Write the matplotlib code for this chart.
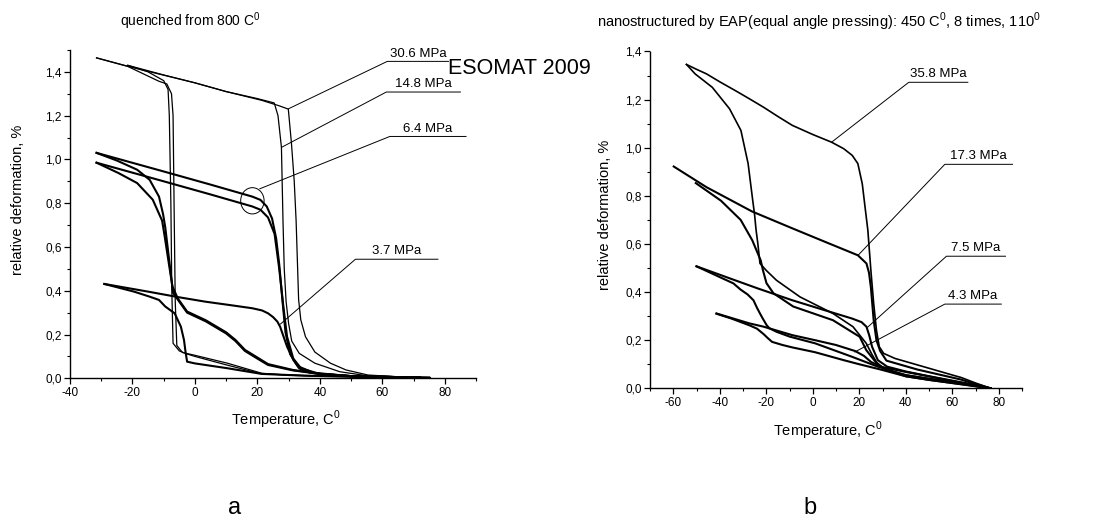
import matplotlib
matplotlib.use('Agg')
import matplotlib.pyplot as plt
from matplotlib.patches import Ellipse
from matplotlib.ticker import MultipleLocator, FuncFormatter

plt.rcParams['font.family'] = ['Liberation Sans', 'DejaVu Sans']
plt.rcParams['axes.unicode_minus'] = False

# ---- panel a: quenched from 800 C ----
a306_heat_T = [-31.5, -20, -10, 0, 10, 21.4, 27, 29.9, 30.9, 31.8, 32.4, 33.2, 33.9, 35.4, 38.4, 43.4, 48.4, 55.4, 65, 75.4]
a306_heat_eps = [1.464, 1.42, 1.385, 1.35, 1.31, 1.27, 1.245, 1.23, 1.075, 0.9, 0.72, 0.36, 0.267, 0.19, 0.12, 0.069, 0.038, 0.015, 0.007, 0.003]
a306_cool_T = [75.4, 55, 40, 30, 21.4, 10.4, 0, -4, -5.8, -6.3, -6.6, -7.0, -7.5, -9.0, -11.5, -21.5, -31.5]
a306_cool_eps = [0.003, 0.006, 0.01, 0.014, 0.023, 0.069, 0.105, 0.118, 0.15, 0.35, 0.7, 1.2, 1.3, 1.345, 1.357, 1.425, 1.464]

a148_heat_T = [-21.5, -10, 0, 10, 20, 25.4, 26.6, 27.7, 28.2, 28.6, 29.2, 30.0, 31.0, 33.4, 38.4, 46.4, 55, 72]
a148_heat_eps = [1.43, 1.386, 1.35, 1.31, 1.278, 1.258, 1.2, 1.055, 0.72, 0.5, 0.35, 0.25, 0.17, 0.114, 0.069, 0.03, 0.012, 0.004]
a148_cool_T = [72, 50, 35, 21.4, 10.4, 0, -2.5, -5, -7.0, -7.4, -7.7, -8.2, -8.6, -10, -15, -21.5]
a148_cool_eps = [0.003, 0.008, 0.013, 0.02, 0.06, 0.1, 0.111, 0.125, 0.16, 0.4, 0.8, 1.2, 1.32, 1.36, 1.4, 1.43]

a64a_heat_T = [-31.5, -10, 5, 18.4, 21, 23, 24.7, 26, 27, 28, 29, 30.5, 33, 38, 50, 72]
a64a_heat_eps = [1.03, 0.945, 0.885, 0.83, 0.815, 0.785, 0.73, 0.64, 0.52, 0.36, 0.21, 0.11, 0.055, 0.025, 0.01, 0.003]
a64a_cool_T = [72, 50, 40, 31.4, 23.4, 20, 16, 13, 10, 3.5, -2.5, -5.5, -7, -8, -9.5, -10.2, -11.5, -14.5, -18.5, -25, -31.5]
a64a_cool_eps = [0.003, 0.01, 0.02, 0.036, 0.061, 0.09, 0.125, 0.17, 0.205, 0.26, 0.30, 0.36, 0.39, 0.51, 0.69, 0.75, 0.83, 0.907, 0.953, 0.995, 1.03]

a64b_heat_T = [-31.5, -10, 5, 18.4, 21, 23.4, 25.5, 27, 28.3, 29.5, 31.5, 34, 40, 50, 72]
a64b_heat_eps = [0.985, 0.9, 0.84, 0.785, 0.77, 0.735, 0.66, 0.5, 0.33, 0.19, 0.09, 0.045, 0.02, 0.01, 0.003]
a64b_cool_T = [72, 50, 40, 31.4, 23.4, 20, 16, 13, 10, 3.5, -2.5, -5.5, -7.2, -8.3, -9.7, -10.5, -13.5, -18.5, -24.5, -31.5]
a64b_cool_eps = [0.003, 0.01, 0.021, 0.038, 0.065, 0.095, 0.13, 0.175, 0.21, 0.265, 0.305, 0.365, 0.42, 0.52, 0.65, 0.72, 0.816, 0.892, 0.938, 0.985]

a37_heat_T = [-29, -15, -5, 3.4, 12, 18.4, 21.5, 23.4, 25, 26.4, 27.3, 28, 29.5, 31.5, 33.4, 37, 45, 60, 75]
a37_heat_eps = [0.431, 0.396, 0.37, 0.35, 0.333, 0.32, 0.31, 0.297, 0.28, 0.259, 0.235, 0.206, 0.145, 0.084, 0.045, 0.025, 0.012, 0.006, 0.003]
a37_cool_T = [75, 50, 35, 21.4, 10.4, 0, -2.5, -3.0, -3.5, -4.5, -6.5, -9.5, -11.5, -14.5, -19.5, -29]
a37_cool_eps = [0.003, 0.007, 0.012, 0.02, 0.046, 0.068, 0.076, 0.12, 0.175, 0.236, 0.297, 0.328, 0.358, 0.373, 0.396, 0.431]

# ---- panel b: nanostructured by EAP ----
b358_heat_T = [-54.3, -50, -45.7, -40, -33.4, -27, -21.1, -15, -8.8, 0, 8.1, 13.3, 17, 19.4, 21.3, 22.5, 23.7, 25, 26.2, 27.4, 28.6, 30.5, 35.4, 50.1, 61.2, 63.8, 70, 76.5]
b358_heat_eps = [1.346, 1.326, 1.307, 1.274, 1.238, 1.202, 1.168, 1.13, 1.093, 1.055, 1.023, 0.996, 0.968, 0.934, 0.85, 0.753, 0.657, 0.49, 0.353, 0.242, 0.173, 0.145, 0.124, 0.083, 0.052, 0.045, 0.022, 0.0]
b358_cool_T = [76.5, 65, 50, 40, 32, 28, 25.5, 23, 17.3, 8.7, -5.5, -15.6, -20, -22.7, -23.6, -24.4, -25, -26, -27.8, -30.9, -35.8, -43.2, -50.6, -54.3]
b358_cool_eps = [0.0, 0.02, 0.04, 0.055, 0.075, 0.1, 0.14, 0.187, 0.256, 0.311, 0.38, 0.449, 0.49, 0.519, 0.6, 0.66, 0.72, 0.795, 0.934, 1.072, 1.162, 1.251, 1.307, 1.346]

b173_heat_T = [-59.8, -45.7, -26.1, -8.8, 5, 19.4, 23.1, 24.2, 25, 26.2, 27.4, 29, 31.7, 45, 61.2, 63.5, 70, 76.5]
b173_heat_eps = [0.922, 0.836, 0.735, 0.665, 0.61, 0.553, 0.519, 0.48, 0.42, 0.283, 0.2, 0.155, 0.115, 0.078, 0.042, 0.037, 0.018, 0.0]
b173_cool_T = [76.5, 65, 50, 40, 30.5, 27, 23, 20.2, 8.7, -8.4, -16.9, -19.9, -21.4, -22.4, -26, -31, -39.5, -50.3]
b173_cool_eps = [0.0, 0.016, 0.035, 0.05, 0.083, 0.11, 0.159, 0.214, 0.283, 0.34, 0.395, 0.437, 0.49, 0.532, 0.615, 0.70, 0.78, 0.853]

b75_heat_T = [-50, -33.4, -23.6, -8.8, 5, 16.9, 21, 23.1, 24.3, 25.5, 28, 32, 40, 50, 60, 70, 76.5]
b75_heat_eps = [0.507, 0.449, 0.415, 0.366, 0.325, 0.29, 0.275, 0.256, 0.22, 0.173, 0.117, 0.09, 0.07, 0.05, 0.03, 0.012, 0.0]
b75_cool_T = [76.5, 65, 50, 40, 28, 16.9, 1, -10, -15.6, -18.7, -19.8, -21.5, -22.7, -24, -25.5, -28, -31, -34.1, -39.5, -50]
b75_cool_eps = [0.0, 0.018, 0.04, 0.055, 0.09, 0.131, 0.187, 0.215, 0.235, 0.25, 0.262, 0.29, 0.311, 0.335, 0.366, 0.39, 0.41, 0.436, 0.46, 0.507]

b43_heat_T = [-41.4, -27.3, -21.1, -8.8, 1, 10, 18.2, 22, 25, 29.2, 40, 50, 60, 70, 76.5]
b43_heat_eps = [0.311, 0.27, 0.256, 0.221, 0.2, 0.18, 0.155, 0.135, 0.11, 0.09, 0.068, 0.05, 0.032, 0.014, 0.0]
b43_cool_T = [76.5, 65, 50, 40, 29.2, 20, 13.3, 1, -8.8, -13, -17.5, -19.5, -21.1, -24, -27.3, -35, -41.4]
b43_cool_eps = [0.0, 0.015, 0.035, 0.05, 0.078, 0.1, 0.117, 0.15, 0.17, 0.18, 0.193, 0.21, 0.225, 0.248, 0.262, 0.29, 0.31]

labels_a = ['30.6 MPa', '14.8 MPa', '6.4 MPa', '3.7 MPa']
labels_b = ['35.8 MPa', '17.3 MPa', '7.5 MPa', '4.3 MPa']

W, H = 1108, 526
fig = plt.figure(figsize=(W / 100, H / 100), dpi=100)
axL = fig.add_axes([70 / W, 1 - 378.3 / H, 406 / W, 328.3 / H])
axR = fig.add_axes([650 / W, 1 - 388.3 / H, 372 / W, 336.8 / H])

comma = FuncFormatter(lambda v, p: f'{v:.1f}'.replace('.', ','))

for ax in (axL, axR):
    for s in ('top', 'right'):
        ax.spines[s].set_visible(False)
    for s in ('left', 'bottom'):
        ax.spines[s].set_linewidth(1.0)
    ax.xaxis.set_major_locator(MultipleLocator(20))
    ax.xaxis.set_minor_locator(MultipleLocator(10))
    ax.yaxis.set_major_locator(MultipleLocator(0.2))
    ax.yaxis.set_minor_locator(MultipleLocator(0.1))
    ax.yaxis.set_major_formatter(comma)
    ax.tick_params(which='major', direction='out', length=4, width=0.9, labelsize=8.5, pad=2)
    ax.tick_params(which='minor', direction='out', length=2.5, width=0.8)

axL.set_xlim(-40, 90)
axL.set_ylim(0, 1.5)
axR.set_xlim(-70, 90)
axR.set_ylim(0, 1.4)

thin, thick = 0.9, 1.5
loops_a = [
    (a306_heat_T, a306_heat_eps, a306_cool_T, a306_cool_eps, thin),
    (a148_heat_T, a148_heat_eps, a148_cool_T, a148_cool_eps, thin),
    (a64a_heat_T, a64a_heat_eps, a64a_cool_T, a64a_cool_eps, thick),
    (a64b_heat_T, a64b_heat_eps, a64b_cool_T, a64b_cool_eps, thick),
    (a37_heat_T, a37_heat_eps, a37_cool_T, a37_cool_eps, thick),
]
loops_b = [
    (b358_heat_T, b358_heat_eps, b358_cool_T, b358_cool_eps, 1.2),
    (b173_heat_T, b173_heat_eps, b173_cool_T, b173_cool_eps, thick),
    (b75_heat_T, b75_heat_eps, b75_cool_T, b75_cool_eps, thick),
    (b43_heat_T, b43_heat_eps, b43_cool_T, b43_cool_eps, thick),
]
for ax, loops in ((axL, loops_a), (axR, loops_b)):
    for hT, he, cT, ce, lw in loops:
        ax.plot(hT, he, color='black', lw=lw, solid_joinstyle='round')
        ax.plot(cT, ce, color='black', lw=lw, solid_joinstyle='round')

# leader lines with underlined labels
lead_a = [((29.9, 1.231), (61.6, 81.2, 1.448)),
          ((27.7, 1.055), (61.3, 85.0, 1.308)),
          ((20.8, 0.866), (62.4, 86.8, 1.105)),
          ((27.4, 0.248), (51.4, 77.8, 0.544))]
lead_b = [((8.1, 1.023), (41.3, 66.7, 1.272)),
          ((19.5, 0.553), (56.8, 85.9, 0.931)),
          ((23.6, 0.254), (57.5, 82.9, 0.549)),
          ((18.1, 0.151), (56.8, 81.1, 0.350))]
for ax, leads, labels in ((axL, lead_a, labels_a), (axR, lead_b, labels_b)):
    for (p, (x0, x1, yl)), lab in zip(leads, labels):
        ax.plot([p[0], x0, x1], [p[1], yl, yl], color='black', lw=0.7, clip_on=False)
        ax.text((x0 + x1) / 2, yl + 0.008, lab, ha='center', va='bottom', fontsize=9.5, clip_on=False)

axL.add_patch(Ellipse((18.4, 0.811), 7.5, 0.12, fill=False, lw=0.7, ec='black'))

sup = r'$^{\mathregular{0}}$'
fig.text(120 / W, 1 - 21 / H, 'quenched from 800 C' + sup, ha='left', va='center', fontsize=10)
fig.text(597 / W, 1 - 22 / H, 'nanostructured by EAP(equal angle pressing): 450 C' + sup + ', 8 times, 110' + sup,
         ha='left', va='center', fontsize=10.5)
fig.text(448 / W, 1 - 68 / H, 'ESOMAT 2009', ha='left', va='center', fontsize=15.5)

fig.text(18 / W, 1 - 200 / H, 'relative deformation, %', rotation=90, ha='center', va='center', fontsize=10.5)
fig.text(605 / W, 1 - 215 / H, 'relative deformation, %', rotation=90, ha='center', va='center', fontsize=10.5)
fig.text(286 / W, 1 - 420 / H, 'Temperature, C' + sup, ha='center', va='center', fontsize=10.5)
fig.text(828 / W, 1 - 431 / H, 'Temperature, C' + sup, ha='center', va='center', fontsize=10.5)

fig.text(235 / W, 1 - 508 / H, 'a', ha='center', va='center', fontsize=17)
fig.text(810 / W, 1 - 508 / H, 'b', ha='center', va='center', fontsize=17)

fig.savefig('out.png', dpi=100)
